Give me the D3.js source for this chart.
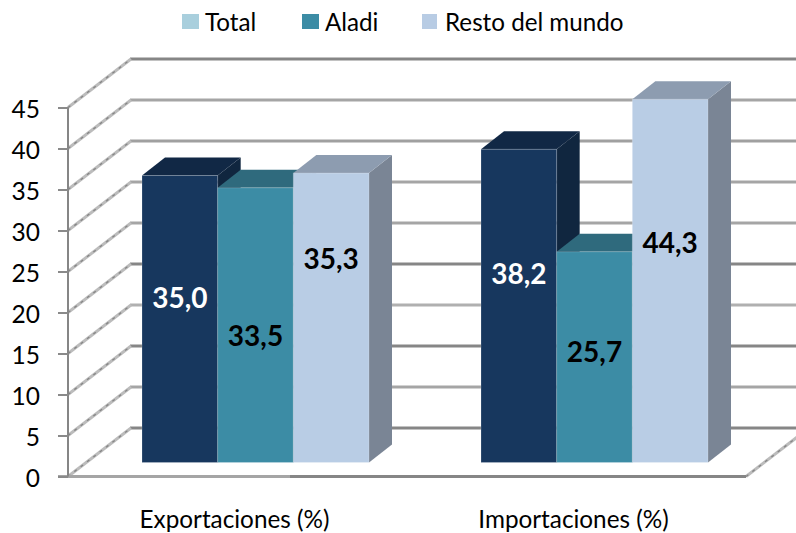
<!DOCTYPE html>
<html><head><meta charset="utf-8">
<script src="https://cdn.jsdelivr.net/npm/d3@7"></script>
<style>html,body{margin:0;padding:0;background:#fff}svg{display:block}text{font-family:Lato,sans-serif}</style>
</head><body><svg id="c" width="796" height="533"></svg>
<script>
const categories = ["Exportaciones (%)", "Importaciones (%)"];
const seriesNames = ["Total", "Aladi", "Resto del mundo"];
const total = [35.0, 38.2];
const aladi = [33.5, 25.7];
const resto = [35.3, 44.3];
const yTicks = [0,5,10,15,20,25,30,35,40,45];
const legendColors = ["#a9cfdd", "#3c8ca5", "#b8cce4"];
const frontColors = ["#17375e", "#3c8ca5", "#b9cde5"];
const topColors = ["#112845", "#2f6a7d", "#8d9cb0"];
const sideColors = ["#10263f", "#2a5f70", "#7a8595"];
const labelColors = ["#fff", "#000", "#000"];
const labelFrac = [[0.43,0.40],[0.54,0.48],[0.30,0.397]];
const gridColors = ["#868686","#a5a5a5","#868686","#b0b0b0","#868686","#a5a5a5","#a5a5a5","#a0a0a0","#a5a5a5","#868686"];

const svg = d3.select("#c");
const values = [total, aladi, resto];
const y = d3.scaleLinear().domain([0,45]).range([476.5,107.5]);
const wall = {dx:63, dy:-48.5};
const barDepth = {dx:23, dy:-18};
const barBase = -14;
const x0 = d3.scaleBand().domain(categories).range([68,746]);
const x1 = d3.scaleBand().domain(seriesNames).range([74,301]);

function diagonal(xa, ya){
  svg.append("line").attr("x1",xa).attr("x2",xa+wall.dx).attr("y1",ya).attr("y2",ya+wall.dy)
    .attr("stroke","#bcbcbc").attr("stroke-width",3);
  svg.append("line").attr("x1",xa).attr("x2",xa+wall.dx).attr("y1",ya).attr("y2",ya+wall.dy)
    .attr("stroke","#868686").attr("stroke-width",1.3).attr("stroke-dasharray","3 5");
}
yTicks.forEach((t,i)=>{
  const yy = y(t);
  svg.append("line").attr("x1",68+wall.dx-1).attr("x2",800).attr("y1",yy+wall.dy).attr("y2",yy+wall.dy)
    .attr("stroke",gridColors[i]).attr("stroke-width",3);
  diagonal(68,yy);
});
diagonal(746,y(0));

// front axis
svg.append("line").attr("x1",58).attr("x2",290).attr("y1",y(0)).attr("y2",y(0)).attr("stroke","#a5a5a5").attr("stroke-width",3);
svg.append("line").attr("x1",290).attr("x2",746).attr("y1",y(0)).attr("y2",y(0)).attr("stroke","#868686").attr("stroke-width",3);
svg.append("line").attr("x1",68).attr("x2",68).attr("y1",y(0)).attr("y2",y(45)).attr("stroke","#868686").attr("stroke-width",2);

const yAxis = svg.append("g").attr("transform","translate(68,0)")
  .call(d3.axisLeft(y).tickValues(yTicks).tickSize(10).tickPadding(18));
yAxis.select(".domain").remove();
yAxis.selectAll("line").attr("stroke","#8a8a8a").attr("stroke-width",2);
yAxis.selectAll("text").attr("font-size",24.5).attr("fill","#000").attr("font-family","Lato,sans-serif").attr("y",2);

// bars
const barScale = v => y(v)+barBase;
categories.forEach((c,ci)=>{
  seriesNames.forEach((s,si)=>{
    const v = values[si][ci];
    const xl = x0(c)+x1(s), w = x1.bandwidth(), yt = barScale(v), yb = barScale(0);
    const d = barDepth;
    const pts = a=>a.map(p=>p.join(",")).join(" ");
    svg.append("polygon").attr("points",pts([[xl+w,yt],[xl+w+d.dx,yt+d.dy],[xl+w+d.dx,yb+d.dy],[xl+w,yb]])).attr("fill",sideColors[si]);
    svg.append("polygon").attr("points",pts([[xl,yt],[xl+d.dx,yt+d.dy],[xl+w+d.dx,yt+d.dy],[xl+w,yt]])).attr("fill",topColors[si]);
    svg.append("rect").attr("x",xl).attr("y",yt).attr("width",w).attr("height",yb-yt).attr("fill",frontColors[si])
      .attr("stroke","#fff").attr("stroke-opacity",0.2).attr("stroke-width",1);
  });
});
// data labels
categories.forEach((c,ci)=>{
  seriesNames.forEach((s,si)=>{
    const v = values[si][ci];
    const yt = barScale(v), yb = barScale(0);
    svg.append("text").attr("x",x0(c)+x1(s)+x1.bandwidth()/2)
      .attr("y",yt+(yb-yt)*labelFrac[si][ci]+9.5)
      .attr("text-anchor","middle").attr("font-size",28).attr("font-weight",700).attr("fill",labelColors[si])
      .text(v.toFixed(1).replace(".",","));
  });
});
// category labels
categories.forEach(c=>{
  svg.append("text").attr("x",x0(c)+x0.bandwidth()/2-3).attr("y",528).attr("text-anchor","middle")
    .attr("font-size",24.3).attr("fill","#000").text(c);
});
// legend
const legendX = [182,302,422];
seriesNames.forEach((s,i)=>{
  svg.append("rect").attr("x",legendX[i]).attr("y",14).attr("width",i===2?15:17).attr("height",15).attr("fill",legendColors[i]);
  svg.append("text").attr("x",legendX[i]+23).attr("y",30.5).attr("font-size",24.2).attr("fill","#000").text(s);
});
</script></body></html>
